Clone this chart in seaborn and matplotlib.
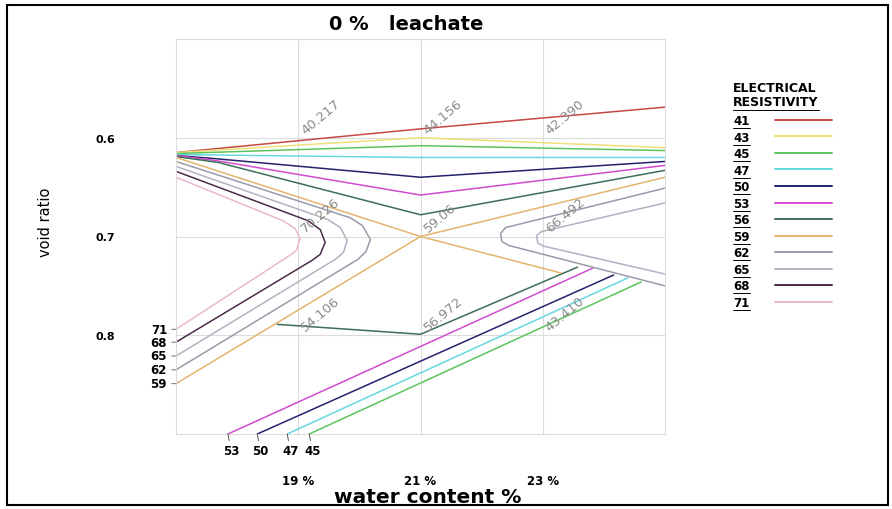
import matplotlib
matplotlib.use("Agg")
import matplotlib.pyplot as plt
import numpy as np
import pandas as pd
import seaborn as sns
from matplotlib.lines import Line2D
from matplotlib.patches import Rectangle

# ---- measured points (water content %, void ratio) and their resistivity ----
grid_wc = [19, 21, 23, 19, 21, 23, 19, 21, 23]
grid_vr = [0.6, 0.6, 0.6, 0.7, 0.7, 0.7, 0.8, 0.8, 0.8]
grid_txt = ["40.217", "44.156", "42.390", "70.226", "59.06", "66.492",
            "54.106", "56.972", "43.410"]

# ---- iso-resistivity lines (water content %, void ratio) ----
wc_41 = [17.0, 21.0, 25.0]
vr_41 = [0.615, 0.591, 0.569]

wc_43 = [17.0, 21.0, 25.0]
vr_43 = [0.615, 0.600, 0.610]

wc_45 = [17.0, 21.0, 25.0]
vr_45 = [0.616, 0.608, 0.613]
wc_45_low = [19.18, 24.61]
vr_45_low = [0.900, 0.746]

wc_47 = [17.0, 21.0, 25.0]
vr_47 = [0.617, 0.620, 0.620]
wc_47_low = [18.82, 24.39]
vr_47_low = [0.900, 0.742]

wc_50 = [17.0, 17.61, 21.0, 25.0]
vr_50 = [0.618, 0.621, 0.640, 0.624]
wc_50_low = [18.33, 24.16]
vr_50_low = [0.900, 0.739]

wc_53 = [17.0, 17.64, 21.0, 25.0]
vr_53 = [0.618, 0.623, 0.658, 0.628]
wc_53_low = [17.85, 23.82]
vr_53_low = [0.900, 0.732]

wc_56 = [17.0, 17.69, 21.0, 25.0]
vr_56 = [0.619, 0.625, 0.678, 0.633]
wc_56_low = [18.66, 21.0, 23.57]
vr_56_low = [0.789, 0.799, 0.731]

wc_59 = [17.0, 21.0, 25.0]
vr_59 = [0.620, 0.700, 0.640]
wc_59_low = [17.0, 21.0, 23.30]
vr_59_low = [0.849, 0.700, 0.737]

wc_62 = [17.0, 19.85, 20.05, 20.18, 20.11, 19.98, 17.0]
vr_62 = [0.624, 0.681, 0.689, 0.703, 0.715, 0.723, 0.835]
wc_62_right = [25.0, 22.39, 22.31, 22.33, 22.44, 25.0]
vr_62_right = [0.651, 0.691, 0.697, 0.705, 0.709, 0.750]

wc_65 = [17.0, 19.49, 19.69, 19.80, 19.74, 19.61, 17.0]
vr_65 = [0.629, 0.683, 0.691, 0.704, 0.716, 0.723, 0.821]
wc_65_right = [25.0, 22.98, 22.90, 22.92, 23.03, 25.0]
vr_65_right = [0.666, 0.695, 0.699, 0.707, 0.710, 0.738]

wc_68 = [17.0, 19.16, 19.36, 19.44, 19.36, 19.23, 17.0]
vr_68 = [0.634, 0.684, 0.693, 0.706, 0.718, 0.724, 0.807]

wc_71 = [17.0, 18.75, 18.95, 19.03, 18.97, 18.84, 17.0]
vr_71 = [0.640, 0.684, 0.692, 0.702, 0.714, 0.720, 0.794]

levels = [41, 43, 45, 47, 50, 53, 56, 59, 62, 65, 68, 71]
level_colors = ["#c44a44", "#f0e078", "#5cc45c", "#66d8de", "#23236e", "#d24ccf",
                "#3f6e55", "#e4b36e", "#9a9aaa", "#b2b2c2", "#4b2b48", "#ebb6cf"]

left_end_levels = [71, 68, 65, 62, 59]
bottom_end_levels = [53, 50, 47, 45]

wc_ticks = [19, 21, 23]
wc_tick_labels = ["19 %", "21 %", "23 %"]
vr_ticks = [0.6, 0.7, 0.8]
vr_tick_labels = ["0.6", "0.7", "0.8"]

# ---- assemble a long table of line segments ----
segments = [
    (41, wc_41, vr_41), (43, wc_43, vr_43),
    (45, wc_45, vr_45), (45, wc_45_low, vr_45_low),
    (47, wc_47, vr_47), (47, wc_47_low, vr_47_low),
    (50, wc_50, vr_50), (50, wc_50_low, vr_50_low),
    (53, wc_53, vr_53), (53, wc_53_low, vr_53_low),
    (56, wc_56, vr_56), (56, wc_56_low, vr_56_low),
    (59, wc_59, vr_59), (59, wc_59_low, vr_59_low),
    (62, wc_62, vr_62), (62, wc_62_right, vr_62_right),
    (65, wc_65, vr_65), (65, wc_65_right, vr_65_right),
    (68, wc_68, vr_68), (71, wc_71, vr_71),
]
rows = []
for sid, (lvl, xs, ys) in enumerate(segments):
    for x, y in zip(xs, ys):
        rows.append({"seg": sid, "rho": lvl, "wc": x, "vr": y})
df = pd.DataFrame(rows)
palette = dict(zip(levels, level_colors))

sns.set_theme(style="white")
plt.rcParams["font.family"] = ["DejaVu Sans"]
plt.rcParams["text.color"] = "black"
plt.rcParams["xtick.color"] = "black"
plt.rcParams["ytick.color"] = "black"

W, H = 892, 510
fig = plt.figure(figsize=(W / 100, H / 100), dpi=100)
ax = fig.add_axes([176 / W, 1 - 435 / H, (665 - 176) / W, (435 - 40) / H])

sns.lineplot(data=df, x="wc", y="vr", hue="rho", units="seg", estimator=None,
             sort=False, palette=palette, legend=False, linewidth=1.1, ax=ax)

ax.set_xlim(17, 25)
ax.set_ylim(0.9, 0.5)
ax.set_xticks(wc_ticks, wc_tick_labels)
ax.set_yticks(vr_ticks, vr_tick_labels)
ax.tick_params(axis="x", length=0, pad=29, labelsize=8.5, labelcolor="black")
ax.tick_params(axis="y", length=0, pad=44, labelsize=8, labelcolor="black")
for lab in ax.get_xticklabels() + ax.get_yticklabels():
    lab.set_fontweight("bold")
ax.grid(True, color="#dcdcdc", linewidth=0.8)
for sp in ax.spines.values():
    sp.set_color("#dcdcdc")
    sp.set_linewidth(0.8)
ax.set_xlabel("")
ax.set_ylabel("")

# values at the measured points
for x, y, t in zip(grid_wc, grid_vr, grid_txt):
    ax.annotate(t, xy=(x, y), xytext=(7, 4), textcoords="offset pixels",
                rotation=40, rotation_mode="anchor", ha="left", va="baseline",
                fontsize=9.5, color="#8a8a8a")

# level tags where lines leave the plot on the left
for lvl in left_end_levels:
    sub = df[(df.rho == lvl) & (np.isclose(df.wc, 17.0))]
    y_end = sub.vr.max()
    ax.annotate(str(lvl), xy=(17.0, y_end), xytext=(-9, 0),
                textcoords="offset pixels", ha="right", va="center",
                fontsize=8.5, fontweight="bold", color="black",
                annotation_clip=False,
                arrowprops=dict(arrowstyle="-", color="#777777", lw=0.7,
                                shrinkA=1, shrinkB=0))

# level tags where lines leave the plot at the bottom
for lvl in bottom_end_levels:
    sub = df[(df.rho == lvl) & (np.isclose(df.vr, 0.9))]
    x_end = sub.wc.iloc[0]
    ax.annotate(str(lvl), xy=(x_end, 0.9), xytext=(3, -10),
                textcoords="offset pixels", ha="center", va="top",
                fontsize=8.5, fontweight="bold", color="black",
                annotation_clip=False,
                arrowprops=dict(arrowstyle="-", color="#555555", lw=0.7,
                                shrinkA=0, shrinkB=0))

fig.text(406 / W, 1 - 30 / H, "0 %   leachate", ha="center", va="baseline",
         fontsize=14, fontweight="bold", color="black")
fig.text(45 / W, 1 - 222 / H, "void ratio", rotation=90, ha="center",
         va="center", fontsize=10.5, color="black")
fig.text(428 / W, 1 - 503 / H, "water content %", ha="center", va="baseline",
         fontsize=14.5, fontweight="bold", color="black")

# legend header
hdr1 = fig.text(733 / W, 1 - 88 / H, "ELECTRICAL", ha="left", va="center",
                fontsize=9, fontweight="bold", color="black")
hdr2 = fig.text(733 / W, 1 - 103 / H, "RESISTIVITY", ha="left", va="center",
                fontsize=9, fontweight="bold", color="black")

# legend: tag on the left, line sample on the right
handles = [Line2D([], [], color=c, lw=1.4) for c in level_colors]
leg = fig.legend(handles, [str(l) for l in levels], loc="upper left",
                 bbox_to_anchor=(733 / W, 1 - 115 / H),
                 bbox_transform=fig.transFigure, frameon=False,
                 markerfirst=False, handlelength=4.8, handletextpad=2.2,
                 labelspacing=0.30, borderpad=0, borderaxespad=0,
                 prop={"size": 8.5, "weight": "bold"})
for t in leg.get_texts():
    t.set_color("black")

fig.canvas.draw()
renderer = fig.canvas.get_renderer()
for t in list(leg.get_texts()) + [hdr2]:
    bb = t.get_window_extent(renderer)
    y = bb.y0 - 1
    fig.add_artist(Line2D([bb.x0 / W, bb.x1 / W], [y / H, y / H],
                          transform=fig.transFigure, color="black", lw=0.7))

fig.add_artist(Rectangle((7 / W, 1 - 506 / H), (888 - 7) / W, (506 - 6) / H,
                         transform=fig.transFigure, fill=False,
                         edgecolor="black", linewidth=1.5))

fig.savefig("out.png", dpi=100)
